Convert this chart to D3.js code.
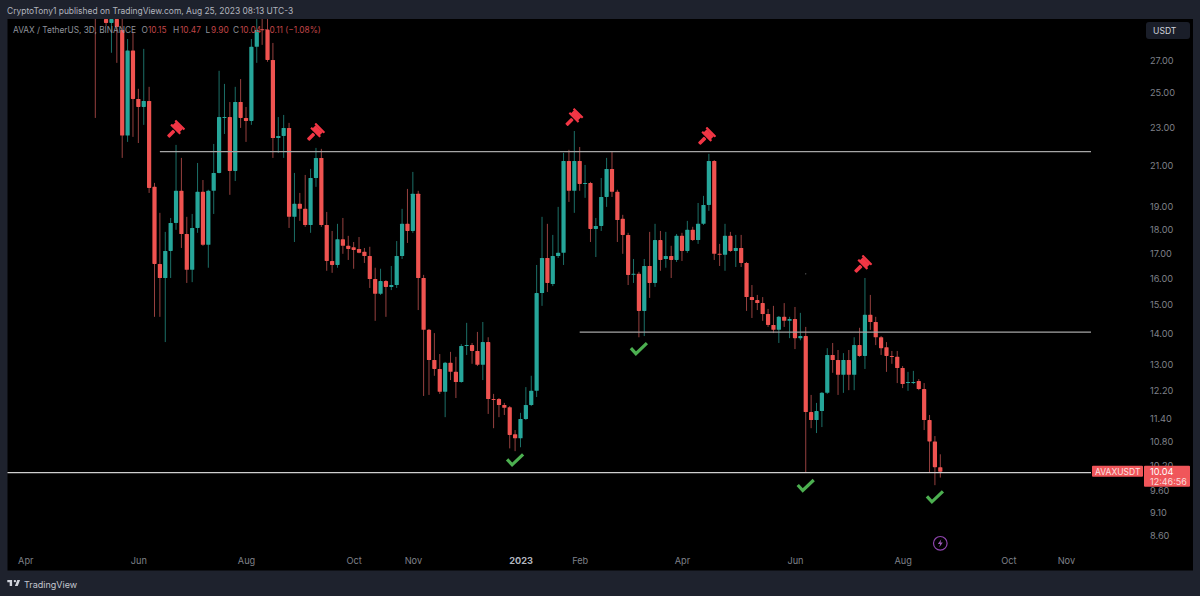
<!DOCTYPE html>
<html>
<head>
<meta charset="utf-8">
<style>
  html, body { margin: 0; padding: 0; background: #1e222d; }
  svg { display: block; }
  text { font-family: Inter, "Noto Sans", sans-serif; }
</style>
</head>
<body>
<svg id="chart" width="1200" height="596"></svg>
<script src="https://cdn.jsdelivr.net/npm/d3@7"></script>
<script>
// 3D candles, first one opens 2022-05-09 (its body is above the visible range)
const firstCandle = new Date(2022, 4, 9);
const lastCandle = new Date(2023, 7, 23);

const opens = [
  33,31.8,29.87,29.59,29.87,29.10,22.56,27.69,24.64,24.17,
  24.52,19.94,16.56,16.01,17.09,18.28,19.75,17.80,16.33,18.06,
  19.70,17.34,19.75,20.62,23.54,23.59,20.72,24.46,23.54,23.37,
  27.94,29.14,29.10,27.07,22.43,22.54,22.98,18.55,19.14,18.91,
  18.19,20.37,21.38,18.19,16.68,16.52,17.58,17.30,17.24,17.17,
  17.05,16.88,15.97,15.41,15.89,15.67,15.74,16.88,18.24,17.93,
  19.61,16.01,14.13,13.14,12.86,12.17,13.05,12.77,12.46,13.59,
  13.62,13.43,12.99,13.72,11.96,11.96,11.79,11.73,10.99,10.88,
  11.40,11.79,12.20,15.44,16.80,15.78,16.88,17.01,21.22,19.75,
  21.22,20.08,20.13,18.02,18.15,19.46,20.82,19.70,18.46,17.76,
  16.15,16.17,14.79,16.48,15.82,17.54,16.76,16.88,16.72,17.72,
  17.09,17.98,17.54,18.24,19.09,21.22,16.97,16.93,17.72,17.09,
  17.21,16.60,15.29,15.18,15.07,14.68,14.30,14.13,14.58,14.44,
  14.50,13.85,13.92,11.59,11.37,11.62,12.14,13.30,13.14,12.68,
  13.14,12.68,13.62,13.27,14.65,14.40,13.88,13.55,13.27,13.24,
  12.89,12.43,12.43,12.49,12.25,11.37,10.80,10.15
];
const highs = [
  35,33.5,31.5,30.5,30.8,30.5,28.47,28.96,25.25,27.80,
  25.37,20.13,18.73,17.89,18.50,22.06,21.38,18.55,18.68,21.12,
  20.27,19.80,22.11,26.37,25.55,24.46,25.37,25.85,24.17,28.47,
  31,30.5,30.6,28.2,23.59,23.71,23.26,20.62,19.65,20.52,
  20.82,21.90,21.85,18.77,17.93,18.24,18.50,17.72,17.46,17.67,
  17.21,17.26,16.41,16.37,15.93,16.48,17.50,18.91,19.84,20.67,
  19.75,16.13,14.16,14.02,13.33,13.08,13.40,13.24,13.65,14.37,
  13.69,14.06,14.40,13.88,12.11,11.99,11.85,11.76,11.10,11.57,
  12.31,12.65,16.52,18.55,18.24,17.76,19.00,21.64,21.80,22.81,
  21.95,21.02,20.18,18.50,20.37,21.38,21.69,19.80,18.64,17.85,
  16.76,16.25,16.76,17.89,18.24,17.93,17.89,17.30,17.80,17.85,
  18.37,18.11,19.18,19.51,21.59,21.27,17.38,18.24,17.89,17.76,
  17.76,16.64,15.74,15.37,15.29,14.86,14.97,14.61,15.07,14.58,
  14.93,14.72,14.23,12.08,11.85,12.16,13.52,13.69,13.46,13.36,
  13.46,13.88,14.20,16.01,15.37,14.58,13.92,13.72,13.43,13.43,
  12.95,12.77,12.80,12.55,12.43,11.51,10.94,10.47
];
const lows = [
  23.54,31.4,29.38,27.54,26.88,21.38,22.22,22.49,22.16,23.15,
  19.65,14.58,14.58,13.72,16.01,17.98,17.21,15.82,15.85,17.85,
  17.30,16.41,18.68,20.60,22.65,19.56,20.22,22.98,22.22,23.15,
  26.88,28.07,26.95,21.38,21.64,21.38,18.06,17.46,18.37,18.11,
  17.85,19.94,18.11,16.29,16.21,16.41,16.97,16.72,16.37,16.99,
  16.60,15.63,14.44,15.37,14.58,15.55,15.63,16.76,17.42,17.85,
  14.82,12.05,12.08,12.65,12.11,11.45,12.52,11.99,12.44,13.30,
  13.02,12.95,12.52,11.54,11.15,11.45,11.51,10.62,10.55,10.65,
  11.37,11.76,12.02,14.97,15.48,15.70,16.80,16.52,19.23,18.73,
  19.75,19.42,17.46,16.84,17.93,19.00,19.46,17.46,16.97,15.74,
  15.82,13.88,13.92,15.26,15.67,16.29,16.41,16.01,16.64,16.68,
  17.01,17.50,17.38,18.19,18.82,16.72,16.48,16.29,17.05,16.44,
  16.44,14.79,14.54,14.82,14.44,14.23,14.02,13.69,14.23,13.85,
  13.49,13.78,10.03,11.15,11.02,11.18,12.11,12.74,12.08,12.14,
  12.22,12.22,13.24,12.86,14.13,13.62,13.30,12.77,13.02,12.43,
  12.28,12.20,12.40,12.22,11.10,10.03,9.72,9.90
];
const closes = [
  31.6,32.5,29.59,29.87,29.31,22.56,27.69,24.64,24.17,24.52,
  19.89,16.56,16.01,17.09,18.28,19.75,17.80,16.33,18.06,19.70,
  17.34,19.75,20.62,23.59,23.59,20.72,24.46,23.54,23.37,27.94,
  29.10,29.10,27.07,22.43,22.54,22.98,18.55,19.14,18.91,18.19,
  20.37,21.38,18.19,16.68,16.52,17.58,17.30,17.17,17.13,17.01,
  16.88,15.97,15.41,15.89,15.67,15.74,16.88,18.24,17.93,19.61,
  16.01,14.13,13.14,12.86,12.17,13.05,12.77,12.46,13.59,13.62,
  13.43,12.99,13.72,11.96,11.94,11.79,11.71,10.97,10.88,11.40,
  11.79,12.20,15.44,16.80,15.82,16.88,17.01,21.22,19.75,21.22,
  20.08,20.13,18.02,18.15,19.46,20.82,19.70,18.41,17.76,16.13,
  16.17,14.79,16.48,15.82,17.54,16.72,16.88,16.72,17.72,17.09,
  17.98,17.54,18.24,19.09,21.22,16.97,16.93,17.72,17.09,17.21,
  16.60,15.29,15.18,15.07,14.68,14.30,14.13,14.58,14.44,14.50,
  13.85,13.92,11.59,11.37,11.62,12.14,13.30,13.14,12.68,13.14,
  12.68,13.62,13.27,14.65,14.40,13.88,13.52,13.27,13.24,12.89,
  12.40,12.46,12.46,12.25,11.37,10.80,10.15,10.04
];

// price axis and time axis labels
const priceTicks = [27, 25, 23, 21, 19, 18, 17, 16, 15, 14, 13, 12.2, 11.4, 10.8, 10.2, 9.6, 9.1, 8.6];
const timeTicks = [
  new Date(2022, 2, 31), new Date(2022, 5, 2), new Date(2022, 7, 1), new Date(2022, 8, 30),
  new Date(2022, 10, 2), new Date(2023, 0, 1), new Date(2023, 1, 3), new Date(2023, 3, 1),
  new Date(2023, 5, 3), new Date(2023, 7, 2), new Date(2023, 8, 30), new Date(2023, 10, 1)
];
const timeLabels = ['Apr', 'Jun', 'Aug', 'Oct', 'Nov', '2023', 'Feb', 'Apr', 'Jun', 'Aug', 'Oct', 'Nov'];

// drawn levels: price, start, end
const levelPrices = [21.71, 14.05, 10.02];
const levelStarts = [new Date(2022, 5, 14), new Date(2023, 1, 3), new Date(2022, 0, 1)];
const levelEnds = [new Date(2023, 10, 15), new Date(2023, 10, 15), new Date(2023, 10, 15)];

// hammers (short) and check marks (long)
const hammerDates = [new Date(2022, 5, 23), new Date(2022, 8, 9), new Date(2023, 0, 31), new Date(2023, 3, 15), new Date(2023, 6, 11)];
const hammerPrices = [22.93, 22.76, 23.59, 22.54, 16.56];
const checkDates = [new Date(2022, 11, 29), new Date(2023, 2, 8), new Date(2023, 5, 9), new Date(2023, 7, 20)];
const checkPrices = [10.32, 13.49, 9.70, 9.44];

const GREEN = '#26a69a', RED = '#ef5350';
const GREEN_WICK = '#1c6f67', RED_WICK = '#96403f';

const panel = { left: 7.5, top: 19, right: 1193, bottom: 570.5 };

const svg = d3.select('#chart');

const x = d3.scaleTime().domain([firstCandle, lastCandle]).range([95.3, 940.3]);
const y = d3.scaleLog().domain([8.6, 27]).range([536, 61]);

svg.append('rect')
  .attr('x', panel.left).attr('y', panel.top)
  .attr('width', panel.right - panel.left).attr('height', panel.bottom - panel.top)
  .attr('fill', '#000');

svg.append('clipPath').attr('id', 'plot')
  .append('rect')
  .attr('x', panel.left).attr('y', panel.top)
  .attr('width', panel.right - panel.left).attr('height', panel.bottom - panel.top);

// Header line
svg.append('text').attr('x', 7).attr('y', 14)
  .attr('font-size', 8.45).attr('fill', '#b2b5be')
  .text('CryptoTony1 published on TradingView.com, Aug 25, 2023 08:13 UTC-3');

const plot = svg.append('g').attr('clip-path', 'url(#plot)');

// Candles
const candles = plot.selectAll('g.candle')
  .data(opens)
  .join('g')
  .attr('class', 'candle')
  .attr('transform', (d, i) => `translate(${x(d3.timeDay.offset(firstCandle, i * 3))},0)`);

candles.append('line')
  .attr('y1', (d, i) => y(highs[i]))
  .attr('y2', (d, i) => y(lows[i]))
  .attr('stroke', (d, i) => closes[i] >= d ? GREEN_WICK : RED_WICK)
  .attr('stroke-width', 1);

candles.append('rect')
  .attr('x', -2.1)
  .attr('width', 4.2)
  .attr('y', (d, i) => y(Math.max(d, closes[i])))
  .attr('height', (d, i) => Math.max(1, Math.abs(y(d) - y(closes[i]))))
  .attr('rx', 0.6)
  .attr('fill', (d, i) => closes[i] >= d ? GREEN : RED);

// Levels are drawings, so they sit over the candles
plot.selectAll('line.level')
  .data(levelPrices)
  .join('line')
  .attr('class', 'level')
  .attr('x1', (d, i) => x(levelStarts[i]))
  .attr('x2', (d, i) => x(levelEnds[i]))
  .attr('y1', d => y(d))
  .attr('y2', d => y(d))
  .attr('stroke', (d, i) => i === 2 ? '#cfcfcf' : '#a6a6a6')
  .attr('stroke-width', 1.2);

// Hammers
const hammers = plot.selectAll('g.hammer')
  .data(hammerPrices)
  .join('g')
  .attr('class', 'hammer')
  .attr('transform', (d, i) => `translate(${x(hammerDates[i])},${y(d)}) rotate(45)`)
  .attr('fill', '#f23645');
hammers.append('rect').attr('x', -6.5).attr('y', -6.5).attr('width', 13).attr('height', 2.2).attr('rx', 0.4);
hammers.append('rect').attr('x', -5).attr('y', -4.6).attr('width', 10).attr('height', 4.6);
hammers.append('rect').attr('x', -6.5).attr('y', -0.6).attr('width', 13).attr('height', 2.2).attr('rx', 0.4);
hammers.append('rect').attr('x', -1.8).attr('y', 2.6).attr('width', 3.6).attr('height', 8.6).attr('rx', 0.8);

// Check marks
plot.selectAll('path.check')
  .data(checkPrices)
  .join('path')
  .attr('class', 'check')
  .attr('transform', (d, i) => `translate(${x(checkDates[i])},${y(d)})`)
  .attr('d', 'M-8,-1 L-3,4.5 L8,-6')
  .attr('fill', 'none')
  .attr('stroke', '#4caf50')
  .attr('stroke-width', 3.2);

// Stray dot from the original drawing
plot.append('circle')
  .attr('cx', x(new Date(2023, 5, 9))).attr('cy', y(16.17))
  .attr('r', 0.6).attr('fill', '#777');

// Lightning badge under the last candle
const badge = plot.append('g')
  .attr('transform', `translate(${x(lastCandle)},${y(8.45)})`);
badge.append('circle').attr('r', 6.8).attr('fill', '#000').attr('stroke', '#8e44ad').attr('stroke-width', 1.2);
badge.append('path').attr('d', 'M1,-4 L-2.5,0.8 L-0.2,0.8 L-1,4 L2.5,-0.8 L0.2,-0.8 Z').attr('fill', '#9b59b6');

// Legend over the candles
const legend = svg.append('text').attr('y', 33).attr('font-size', 8.3);
const legendBits = [
  ['AVAX / TetherUS, 3D, BINANCE', '#8f929b', 13],
  ['O', '#8f929b', 141.5], ['10.15', '#c14548', 148],
  ['H', '#8f929b', 173], ['10.47', '#c14548', 180],
  ['L', '#8f929b', 205.5], ['9.90', '#c14548', 211],
  ['C', '#8f929b', 233], ['10.04', '#c14548', 240],
  ['\u22120.11 (\u22121.08%)', '#c14548', 264]
];
legend.selectAll('tspan')
  .data(legendBits)
  .join('tspan')
  .attr('x', d => d[2])
  .attr('fill', d => d[1])
  .text(d => d[0]);

// Price axis
const yAxis = svg.append('g')
  .attr('transform', 'translate(1150,0)')
  .call(d3.axisRight(y).tickValues(priceTicks).tickFormat(d3.format('.2f')).tickSize(0).tickPadding(0));
yAxis.select('.domain').remove();
yAxis.selectAll('text').attr('font-size', 9.2).attr('fill', '#7f8189').style('font-family', 'Inter');

// Time axis
const xAxis = svg.append('g')
  .attr('transform', 'translate(0,557.5)')
  .call(d3.axisBottom(x).tickValues(timeTicks).tickFormat((d, i) => timeLabels[i]).tickSize(0).tickPadding(0));
xAxis.select('.domain').remove();
xAxis.selectAll('text')
  .attr('font-size', 9.2)
  .attr('fill', '#7f8189')
  .attr('font-weight', (d, i) => timeLabels[i] === '2023' ? 700 : 400)
  .style('font-family', 'Inter');
xAxis.selectAll('text').filter((d, i) => timeLabels[i] === '2023').attr('fill', '#b2b5be');

// USDT button
svg.append('rect').attr('x', 1146).attr('y', 22).attr('width', 44).attr('height', 17).attr('rx', 3).attr('fill', '#1a1e29');
svg.append('text').attr('x', 1153).attr('y', 34).attr('font-size', 8.6).attr('fill', '#d1d4dc').text('USDT');

// Last price tags
const lastY = y(closes[closes.length - 1]);
svg.append('rect').attr('x', 1092).attr('y', lastY - 6).attr('width', 51).attr('height', 11).attr('rx', 1).attr('fill', '#f0565a');
svg.append('rect').attr('x', 1144).attr('y', lastY - 6).attr('width', 46).attr('height', 21).attr('rx', 1).attr('fill', '#f0565a');
svg.append('text').attr('x', 1095).attr('y', lastY + 3).attr('font-size', 8.5).attr('fill', '#fbe3e3').text('AVAXUSDT');
svg.append('text').attr('x', 1150).attr('y', lastY + 3).attr('font-size', 9.2).attr('fill', '#fff').text(d3.format('.2f')(closes[closes.length - 1]));
svg.append('text').attr('x', 1150).attr('y', lastY + 13).attr('font-size', 9).attr('fill', '#fbdcdc').text('12:46:56');

// TradingView mark and name
svg.append('path')
  .attr('transform', 'translate(6.5,577.5) scale(0.4)')
  .attr('d', 'M14 6H2v6h6v9h6V6Zm14 15h-7l6-15h7l-6 15Zm-7-9a3 3 0 1 0 0-6 3 3 0 0 0 0 6Z')
  .attr('fill', '#d1d4dc');
svg.append('text').attr('x', 24).attr('y', 588).attr('font-size', 9).attr('fill', '#c3c6ce').text('TradingView');
</script>
</body>
</html>
